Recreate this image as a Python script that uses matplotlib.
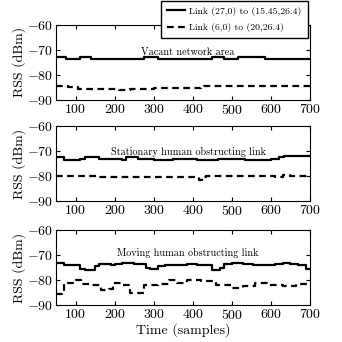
import matplotlib
matplotlib.use("Agg")
import matplotlib.pyplot as plt

plt.rcParams['font.family'] = 'serif'
plt.rcParams['font.serif'] = ['cmr10', 'DejaVu Serif']
plt.rcParams['mathtext.fontset'] = 'cm'
plt.rcParams['axes.formatter.use_mathtext'] = True

# 数据: 阶梯曲线的断点 (样本) 与 RSS 值 (dBm)
vac_solid_x = [50, 75, 110, 140, 275, 310, 450, 480, 515, 585, 700]
vac_solid_y = [-73, -73.5, -73, -73.5, -73, -73.5, -73, -73.5, -73, -73.5, -73.5]
vac_dash_x = [50, 80, 105, 180, 210, 240, 300, 420, 430, 700]
vac_dash_y = [-84.5, -84.8, -85.5, -85.7, -86, -85.5, -85.3, -85, -84.5, -84.5]

sta_solid_x = [50, 70, 110, 125, 160, 220, 230, 260, 300, 350, 410, 465, 535, 600, 620, 635, 700]
sta_solid_y = [-72.5, -73.5, -73, -72.5, -73, -73.5, -72.5, -73, -73.5, -73, -73.5, -73, -73.5, -73, -72.5, -72, -72]
sta_dash_x = [50, 90, 150, 160, 405, 415, 425, 435, 610, 630, 650, 700]
sta_dash_y = [-80, -79.8, -80, -80.5, -80.5, -81.5, -80.5, -80, -80.5, -79.5, -80, -80]

mov_solid_x = [50, 70, 110, 125, 150, 160, 190, 200, 220, 250, 280, 290, 310, 330, 385, 410,
               450, 470, 480, 500, 530, 555, 610, 630, 650, 670, 690, 700]
mov_solid_y = [-73, -74, -75.5, -76, -74.5, -73.5, -74, -73.5, -73, -73.5, -75, -75.5, -74.5, -74, -73.5, -74,
               -76, -75, -73.5, -73, -73.5, -74, -73.5, -73, -73.5, -74, -75.5, -75.5]
mov_dash_x = [50, 65, 70, 100, 115, 140, 165, 185, 195, 215, 240, 275, 310, 340, 360, 385,
              420, 460, 500, 530, 560, 590, 630, 665, 700]
mov_dash_y = [-85.5, -84, -81, -80, -81.5, -82, -84, -83.5, -81, -82, -85, -82, -81.5, -80, -81, -80,
              -80.5, -82, -83, -82.5, -81, -82, -82.5, -81.5, -81.5]

panels = [
    ("Vacant network area", vac_solid_x, vac_solid_y, vac_dash_x, vac_dash_y, 0.708, 0.63),
    ("Stationary human obstructing link", sta_solid_x, sta_solid_y, sta_dash_x, sta_dash_y, 0.412, 0.65),
    ("Moving human obstructing link", mov_solid_x, mov_solid_y, mov_dash_x, mov_dash_y, 0.108, 0.70),
]

fig = plt.figure(figsize=(3.42, 3.42), dpi=100)
for title, sx, sy, dx, dy, bottom, ty in panels:
    ax = fig.add_axes([0.164, bottom, 0.742, 0.219])
    l1, = ax.step(sx, sy, where='post', color='black', lw=1.6, label='Link (27,0) to (15.45,26.4)')
    l2, = ax.step(dx, dy, where='post', color='black', lw=1.6, ls=(0, (3, 2)), label='Link (6,0) to (20,26.4)')
    ax.set_xlim(50, 700)
    ax.set_ylim(-90, -60)
    ax.set_xticks([100, 200, 300, 400, 500, 600, 700])
    ax.set_yticks([-90, -80, -70, -60])
    ax.tick_params(direction='in', top=True, right=True, labelsize=10, length=3, pad=2)
    ax.set_ylabel('RSS (dBm)', fontsize=10, labelpad=1)
    ax.text(0.52, ty, title, transform=ax.transAxes, ha='center', va='center', fontsize=7.3)
    for sp in ax.spines.values():
        sp.set_linewidth(0.8)
ax.set_xlabel('Time (samples)', fontsize=10, labelpad=1)

fig.legend(handles=[l1, l2], loc='upper left', bbox_to_anchor=(0.457, 1.012),
           fontsize=7, frameon=True, fancybox=False, edgecolor='black',
           framealpha=1, handlelength=1.9, handletextpad=0.4, borderpad=0.6, labelspacing=0.8)

fig.savefig('out.png', dpi=100)
